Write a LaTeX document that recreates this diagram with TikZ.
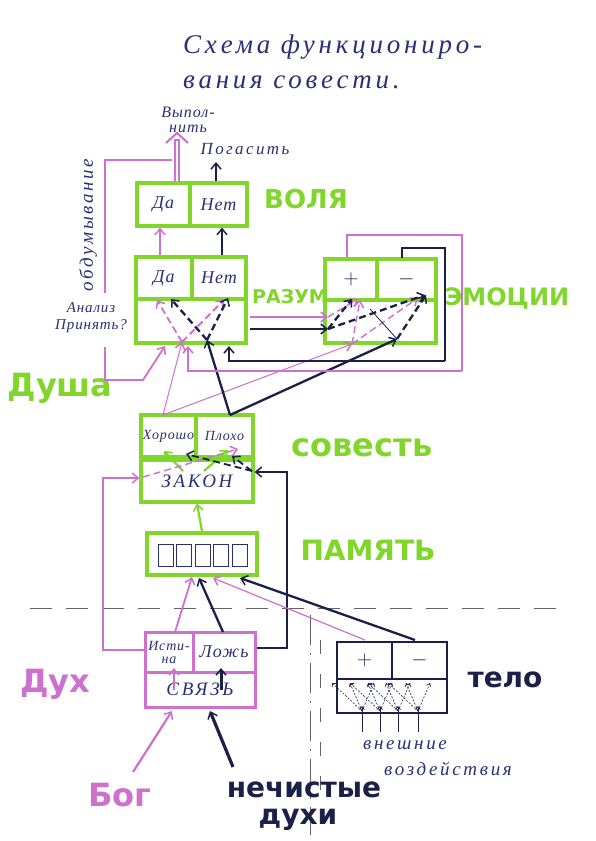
\documentclass[tikz,border=0pt]{standalone}
\usepackage{fontspec}
\setmainfont{Liberation Serif}
\newfontfamily\hand[LetterSpace=6]{Liberation Serif}
\newfontfamily\handw[LetterSpace=14]{Liberation Serif}
\newfontfamily\mkfont{DejaVu Sans}
\usetikzlibrary{arrows.meta}
\definecolor{gr}{RGB}{128,214,42}
\definecolor{pk}{RGB}{206,112,206}
\definecolor{dk}{RGB}{28,32,72}
\definecolor{ink}{RGB}{42,48,118}
\begin{document}
\begin{tikzpicture}[x=1pt,y=-1pt,
  cell/.style={draw=gr,line width=3.2pt,inner sep=0pt,text=ink,font=\hand\itshape\fontsize{18}{18}\selectfont},
  pcell/.style={cell,draw=pk,line width=3pt},
  dcell/.style={cell,draw=dk,line width=2.8pt},
  tip/.style={-{Straight Barb[length=6pt,width=10pt,line width=1.5pt]}},
  parr/.style={pk,line width=1.8pt,tip},
  parrt/.style={pk,line width=1pt,tip},
  darr/.style={dk,line width=2.3pt,tip},
  darrt/.style={dk,line width=0.6pt,-{Straight Barb[length=3pt,width=5pt]}},
  garr/.style={gr,line width=2.2pt,tip},
  pdash/.style={parr,dash pattern=on 7pt off 4pt},
  ddash/.style={darr,dash pattern=on 7pt off 4pt},
  glab/.style={text=gr,font=\mkfont\bfseries\fontsize{26}{26}\selectfont},
  htxt/.style={text=ink,font=\hand\itshape\fontsize{15}{16}\selectfont,align=center,inner sep=0pt},
  bg/.style={gray!70!dk,line width=0.5pt}
]
\useasboundingbox (0,0) rectangle (595,841);
\fill[white] (0,0) rectangle (595,841);

% background guide lines (scan)
\draw[bg,dash pattern=on 22pt off 14pt] (30,608) -- (560,608);
\draw[bg,dash pattern=on 30pt off 8pt on 2pt off 8pt] (310,615) -- (310,835);
\draw[bg,dash pattern=on 14pt off 20pt] (320,640) -- (320,790);

% title
\node[htxt,anchor=west,font=\handw\itshape\fontsize{27}{27}\selectfont] (t1) at (183,47) {Схема функциониро-};
\node[htxt,anchor=west,font=\handw\itshape\fontsize{27}{27}\selectfont] (t2) at (183,82) {вания совести.};

% ---- boxes ----
\node[cell,minimum width=53,minimum height=43] (volDa) at (163.5,204.5) {Да};
\node[cell,minimum width=57,minimum height=43] (volNet) at (218.5,204.5) {Нет};

\node[cell,minimum width=56,minimum height=42] (razDa) at (164,278) {Да};
\node[cell,minimum width=54,minimum height=42] (razNet) at (219,278) {Нет};
\node[cell,minimum width=110,minimum height=44] (razLow) at (191,321) {};

\node[cell,minimum width=52,minimum height=41,text=dk,font=\fontsize{22}{22}\selectfont] (emPlus) at (351,279.5) {$+$};
\node[cell,minimum width=59,minimum height=41,text=dk,font=\fontsize{22}{22}\selectfont] (emMinus) at (406.5,279.5) {$-$};
\node[cell,minimum width=111,minimum height=43] (emLow) at (380.5,321.5) {};

\node[cell,minimum width=55,minimum height=42,font=\hand\itshape\fontsize{14}{14}\selectfont] (sovHor) at (168.5,436) {Хорошо};
\node[cell,minimum width=57,minimum height=42,font=\hand\itshape\fontsize{14}{14}\selectfont] (sovPlo) at (224.5,436) {Плохо};
\node[cell,minimum width=112,minimum height=42,font=\handw\itshape\fontsize{19}{19}\selectfont] (zakon) at (197,481) {ЗАКОН};

\node[cell,minimum width=110,minimum height=42] (pam) at (202,554) {};
\foreach \i in {0,...,4}{
  \draw[ink,line width=0.8pt] (158+\i*18.5,544) rectangle ++(15,22);
}

\node[pcell,minimum width=48,minimum height=40,align=center,font=\hand\itshape\fontsize{14}{13}\selectfont] (ist) at (169,652) {Исти-\\на};
\node[pcell,minimum width=62,minimum height=40] (lozh) at (224,652) {Ложь};
\node[pcell,minimum width=110,minimum height=35,font=\handw\itshape\fontsize{19}{19}\selectfont] (svyaz) at (200,689.5) {СВЯЗЬ};

\node[dcell,minimum width=55,minimum height=37,text=dk,font=\fontsize{22}{22}\selectfont] (tPlus) at (364.5,660.5) {$+$};
\node[dcell,minimum width=55,minimum height=37,text=dk,font=\fontsize{22}{22}\selectfont] (tMinus) at (419.5,660.5) {$-$};
\node[dcell,minimum width=110,minimum height=34] (tLow) at (392,696) {};

% ---- labels ----
\node[glab] (lVolya) at (306,199) {ВОЛЯ};
\node[glab,font=\mkfont\bfseries\fontsize{19}{19}\selectfont] (lRazum) at (290,297) {РАЗУМ};
\node[glab,font=\mkfont\bfseries\fontsize{24}{24}\selectfont] (lEmo) at (507,298) {ЭМОЦИИ};
\node[glab,font=\mkfont\bfseries\fontsize{32}{32}\selectfont] (lSov) at (362,448) {совесть};
\node[glab,font=\mkfont\bfseries\fontsize{28}{28}\selectfont] (lPam) at (368,550) {ПАМЯТЬ};
\node[glab,font=\mkfont\bfseries\fontsize{32}{32}\selectfont] (lDusha) at (60,388) {Душа};
\node[text=pk,font=\mkfont\bfseries\fontsize{32}{32}\selectfont] (lDuh) at (55,684) {Дух};
\node[text=pk,font=\mkfont\bfseries\fontsize{32}{32}\selectfont] (lBog) at (120,795) {Бог};
\node[text=dk,font=\mkfont\bfseries\fontsize{28}{28}\selectfont] (lTelo) at (505,680) {тело};
\node[text=dk,font=\mkfont\bfseries\fontsize{28}{28}\selectfont] (lNech1) at (304,790) {нечистые};
\node[text=dk,font=\mkfont\bfseries\fontsize{28}{28}\selectfont] (lNech2) at (298,820) {духи};

\node[htxt,font=\hand\itshape\fontsize{16}{15}\selectfont] (lVyp) at (188,120) {Выпол-\\нить};
\node[htxt,font=\handw\itshape\fontsize{17}{17}\selectfont] (lPog) at (245,149) {Погасить};
\node[htxt,rotate=90,font=\handw\itshape\fontsize{19}{19}\selectfont] (lObd) at (88,225) {обдумывание};
\node[htxt,font=\hand\itshape\fontsize{15}{17}\selectfont] (lAn) at (91,318) {Анализ\\Принять?};
\node[htxt,font=\handw\itshape\fontsize{19}{19}\selectfont] (lVn1) at (405,745) {внешние};
\node[htxt,font=\handw\itshape\fontsize{19}{19}\selectfont] (lVn2) at (448,769) {воздействия};

% ---- coordinates ----
\coordinate (vyp) at (177,133);
\coordinate (pog) at (216,162);
\coordinate (lp1) at (105,160);
\coordinate (lp2) at (105,380);
\coordinate (dushaC) at (143,380);
\coordinate (razC) at (182,342);
\coordinate (razD) at (207,340);
\coordinate (emFrameTL) at (347,235);
\coordinate (emFrameBR) at (462,371);
\coordinate (emBr1) at (402,248);
\coordinate (emBr2) at (445,361);
\coordinate (horT) at (163,415);
\coordinate (ploT) at (230,415);
\coordinate (zakL) at (103,478);
\coordinate (zakR) at (287,472);
\coordinate (emIn1) at (328,317);
\coordinate (emIn2) at (328,329);
\coordinate (emHor) at (352,344);
\coordinate (emPlo) at (397,339);

% ---- Воля outputs ----
\draw[pk,line width=6pt] (volDa.north -| vyp) -- ++(0,-42);
\draw[white,line width=1.6pt] (volDa.north -| vyp) -- ++(0,-40);
\draw[pk,line width=2pt] (vyp) ++(-11,10) -- (vyp) -- ++(11,10);
\draw[darr] (volNet.north -| pog) -- (pog);

% обдумывание loop and Душа
\draw[pk,line width=1.8pt] (vyp |- lp1) ++(-5,0) -- (lp1) -- (105,293);
\draw[parr] (105,347) -- (lp2) -- (dushaC) -- (165,346);

% Разум -> Воля
\draw[parr] (razDa.north -| 160,0) -- (volDa.south -| 160,0);
\draw[darr] (razNet.north -| 222,0) -- (volNet.south -| 222,0);

% inside Разум
\draw[pdash] (razC) -- (157,300);
\draw[pdash] (razC) -- (224,300);
\draw[ddash] (razD) -- (171,299);
\draw[ddash] (razD) -- (228,298);

% Совесть -> Разум / Эмоции
\draw[parrt] (horT) -- (razC);
\draw[parrt] (horT) -- (emHor);
\draw[darr] (ploT) -- (razD);
\draw[darr] (ploT) -- (emPlo);

% Разум -> Эмоции
\draw[parr] (razLow.east |- emIn1) ++(2,0) -- (emIn1);
\draw[darr] (razLow.east |- emIn2) ++(2,0) -- (emIn2);

% inside Эмоции
\draw[pdash,line width=1.4pt] (emIn1) -- (358,299);
\draw[pdash,line width=1.4pt] (emHor) -- (360,300);
\draw[pdash,line width=1.4pt] (emHor) -- (418,298);
\draw[ddash] (emIn2) -- (352,299);
\draw[ddash] (emIn2) -- (425,295);
\draw[ddash] (emPlo) -- (426,295);
\draw[dk,line width=0.8pt] (370,309) -- (emPlo);

% Эмоции feedback frames
\draw[pk,line width=1.8pt] (emPlus.north -| emFrameTL) -- (emFrameTL) -- (emFrameTL -| emFrameBR) -- (emFrameBR);
\draw[parr] (emFrameBR) -- (188,371) -- (188,346);
\draw[dk,line width=2.6pt] (emBr1) ++(0,10) -- (emBr1) -- (emBr1 -| emBr2) -- (emBr2);
\draw[darr] (emBr2) -- (229,361) -- (229,346);

% Совесть inside
\draw[garr] (183,471) -- (164,451);
\draw[garr] (204,471) -- (228,450);
\draw[pdash,line width=1.4pt] (143,477) -- (238,449);
\draw[ddash,line width=1.8pt] (252,471) -- (186,454);
\draw[ddash,line width=1.8pt] (252,471) -- (232,456);

% Память -> ЗАКОН
\draw[garr] (pam.north) -- (zakon.south);

% Истина -> ЗАКОН (pink loop)
\draw[parr] (ist.west |- 0,650) -- (103,650) -- (zakL) -- (zakon.west |- zakL);
% Ложь -> ЗАКОН (dark loop)
\draw[darr] (lozh.east |- 0,648) -- (287,648) -- (zakR) -- (zakon.east |- zakR);

% Дух -> Память
\draw[parr] (175,632) -- (192,577);
\draw[darr] (223,632) -- (199,578);
% Тело -> Память
\draw[parrt,line width=1.2pt] (365,640) -- (213,578);
\draw[darr] (415,640) -- (240,578);

% СВЯЗЬ -> Истина/Ложь
\draw[parr] (174,690) -- (174,668);
\draw[darr,line width=3pt] (221,690) -- (221,668);
% Бог, нечистые духи
\draw[parr,line width=2.2pt] (133,772) -- (172,711);
\draw[darr,line width=3.2pt] (233,767) -- (210,711);

% внешние воздействия
\foreach \x in {362,380,398,418}{
  \draw[darrt,line width=0.8pt] (\x,732) -- (\x,706);
  \foreach \t in {-30,-12,12}{
    \draw[darrt,dash pattern=on 2pt off 1.5pt] (\x,711) -- (\x+\t,683);
  }
}
\end{tikzpicture}
\end{document}
